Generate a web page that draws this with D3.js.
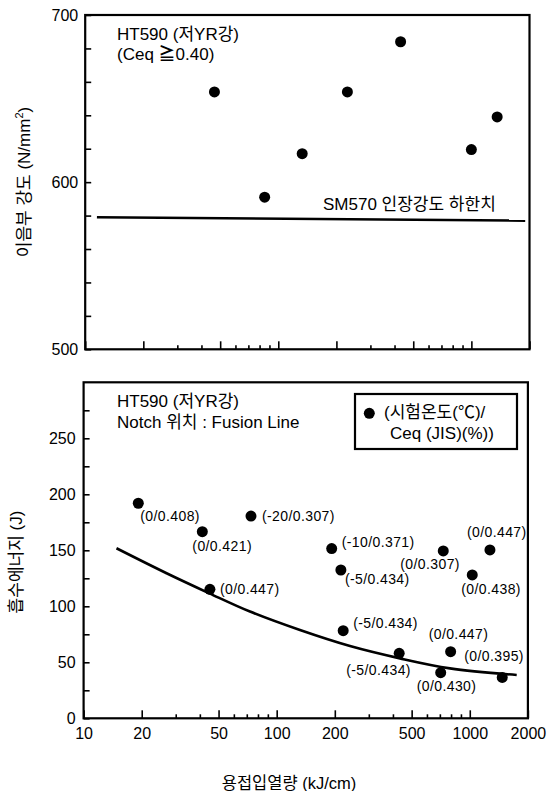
<!DOCTYPE html>
<html>
<head>
<meta charset="utf-8">
<script src="https://cdn.jsdelivr.net/npm/d3@7/dist/d3.min.js"></script>
<style>
  html, body { margin: 0; padding: 0; background: #fff; }
  svg { display: block; font-family: "Liberation Sans", Arial, "Noto Sans CJK KR", sans-serif; }
</style>
</head>
<body>
<svg id="chart" width="551" height="791"></svg>
<script>
// ---------------- DATA ----------------
// Top panel: joint tensile strength (N/mm2) vs heat input (kJ/cm)
const topHeatInput = [46.7, 85, 133, 228, 430, 1000, 1360];
const topStrength  = [654, 591, 617, 654, 684, 619.5, 639];
const refLineX = [11.5, 1900];        // SM570 lower limit line extent
const refLineY = [579, 577];
const topYTicks = [500, 520, 540, 560, 580, 600, 620, 640, 660, 680, 700];
const topYLabels = [500, 600, 700];

// Bottom panel: absorbed energy (J) vs heat input (kJ/cm)
const botHeatInput = [19.2, 41.2, 73.6, 45.1, 192.7, 215, 221, 431, 729, 1272, 1030, 796, 707, 1473];
const botEnergy    = [192, 166.6, 180.6, 115.2, 151.5, 132.4, 78.2, 58, 149.4, 150.3, 128, 59.5, 40.7, 36.5];
const botLabels    = ["(0/0.408)", "(0/0.421)", "(-20/0.307)", "(0/0.447)", "(-10/0.371)", "(-5/0.434)",
                      "(-5/0.434)", "(-5/0.434)", "(0/0.307)", "(0/0.447)", "(0/0.438)", "(0/0.447)",
                      "(0/0.430)", "(0/0.395)"];
// fitted trend curve
const curveHeatInput = [14.8, 26.9, 44.8, 72.7, 132, 239.7, 435, 789.6, 1750];
const curveEnergy    = [151.8, 129.5, 111.6, 95.3, 78.8, 64.5, 53.5, 44.6, 38.7];
const botYTicks  = [0, 25, 50, 75, 100, 125, 150, 175, 200, 225, 250, 275];
const botYLabels = [0, 50, 100, 150, 200, 250];

const xMajorTicks = [10, 20, 50, 100, 200, 500, 1000, 2000];
const xMinorTicks = [30, 40, 60, 70, 80, 90, 300, 400, 600, 700, 800, 900];

// label placement (style): offsets from point to label start / centre line
const labelOffsets = [[2,13],[-10,14],[11,0],[10,0],[10,-7],[4,9],[10,-8],[-53,17],[-43,13],[-23,-18],[-11,14],[-22,-18],[-24,13],[-38,-21]];

// ---------------- DRAW ----------------
const svg = d3.select("#chart");
svg.append("rect").attr("width", 551).attr("height", 791).attr("fill", "#fff");

function panel(opts) {
  const g = svg.append("g");
  const x = opts.x, y = opts.y;
  const [x0, x1] = x.range();
  const [y0, y1] = y.range();
  // minor x ticks
  g.append("g").attr("transform", `translate(0,${y0})`)
    .call(d3.axisBottom(x).tickValues(xMinorTicks).tickSize(-4).tickFormat(""))
    .call(s => s.select(".domain").remove())
    .call(s => s.selectAll("line").attr("stroke", "#000").attr("stroke-width", 1.6));
  // major x ticks
  g.append("g").attr("transform", `translate(0,${y0})`)
    .call(d3.axisBottom(x).tickValues(xMajorTicks).tickSize(-8).tickPadding(9)
      .tickFormat(opts.xLabels ? d3.format("d") : ""))
    .call(s => s.select(".domain").remove())
    .call(s => s.selectAll("line").attr("stroke", "#000").attr("stroke-width", 1.6))
    .call(s => s.selectAll("text").attr("font-size", 16).attr("fill", "#000")
      .attr("font-family", "'Liberation Sans', Arial, sans-serif"));
  // y ticks
  g.append("g").attr("transform", `translate(${x0},0)`)
    .call(d3.axisLeft(y).tickValues(opts.yTicks).tickSize(-6).tickPadding(opts.yPad)
      .tickFormat(d => opts.yLabels.includes(d) ? d : ""))
    .call(s => s.select(".domain").remove())
    .call(s => s.selectAll("line").attr("stroke", "#000").attr("stroke-width", 1.6))
    .call(s => s.selectAll("text").attr("font-size", 16).attr("fill", "#000")
      .attr("font-family", "'Liberation Sans', Arial, sans-serif"));
  // frame
  g.append("rect").attr("x", x0).attr("y", y1).attr("width", x1 - x0).attr("height", y0 - y1)
    .attr("fill", "none").attr("stroke", "#000").attr("stroke-width", 2.2);
  return g;
}

// ---- Top panel
const xTop = d3.scaleLog().domain([10, 2000]).range([85.2, 529.5]);
const yTop = d3.scaleLinear().domain([500, 700]).range([349.3, 15]);
const gTop = panel({x: xTop, y: yTop, yTicks: topYTicks, yLabels: topYLabels, yPad: 7, xLabels: false});

gTop.append("line")
  .attr("x1", xTop(refLineX[0])).attr("y1", yTop(refLineY[0]))
  .attr("x2", xTop(refLineX[1])).attr("y2", yTop(refLineY[1]))
  .attr("stroke", "#000").attr("stroke-width", 2.6);

gTop.selectAll("circle.pt").data(topHeatInput).join("circle")
  .attr("class", "pt")
  .attr("cx", d => xTop(d)).attr("cy", (d, i) => yTop(topStrength[i]))
  .attr("r", 5.5).attr("fill", "#000");

gTop.append("text").attr("x", 117).attr("y", 39.5).attr("font-size", 17).text("HT590 (저YR강)");
gTop.append("text").attr("x", 117).attr("y", 59.6).attr("font-size", 17)
  .html('(Ceq <tspan font-weight="bold">≧</tspan>0.40)');
gTop.append("text").attr("x", 323).attr("y", 210).attr("font-size", 17).text("SM570 인장강도 하한치");

svg.append("text").attr("transform", "translate(30,182) rotate(-90)")
  .attr("text-anchor", "middle").attr("font-size", 17)
  .html('이음부 강도 (N/mm<tspan font-size="11" dy="-7">2</tspan><tspan dy="7">)</tspan>');

// ---- Bottom panel
const xBot = d3.scaleLog().domain([10, 2000]).range([83.6, 527.9]);
const yBot = d3.scaleLinear().domain([0, 300]).range([718.3, 382.3]);
const gBot = panel({x: xBot, y: yBot, yTicks: botYTicks, yLabels: botYLabels, yPad: 8, xLabels: true});

const line = d3.line().x(d => xBot(d[0])).y(d => yBot(d[1])).curve(d3.curveCatmullRom.alpha(0.5));
gBot.append("path")
  .attr("d", line(curveHeatInput.map((v, i) => [v, curveEnergy[i]])))
  .attr("fill", "none").attr("stroke", "#000").attr("stroke-width", 2.6);

gBot.selectAll("circle.pt").data(botHeatInput).join("circle")
  .attr("class", "pt")
  .attr("cx", d => xBot(d)).attr("cy", (d, i) => yBot(botEnergy[i]))
  .attr("r", 5.5).attr("fill", "#000");

gBot.selectAll("text.lbl").data(botHeatInput).join("text")
  .attr("class", "lbl")
  .attr("x", (d, i) => xBot(d) + labelOffsets[i][0])
  .attr("y", (d, i) => yBot(botEnergy[i]) + labelOffsets[i][1])
  .attr("dy", "0.36em")
  .attr("font-size", 14).attr("letter-spacing", 0.4)
  .text((d, i) => botLabels[i]);

gBot.append("text").attr("x", 117).attr("y", 407.3).attr("font-size", 17).text("HT590 (저YR강)");
gBot.append("text").attr("x", 117).attr("y", 428.3).attr("font-size", 17).text("Notch 위치 : Fusion Line");

// legend
const lg = gBot.append("g");
lg.append("rect").attr("x", 355).attr("y", 394).attr("width", 162).attr("height", 55)
  .attr("fill", "#fff").attr("stroke", "#000").attr("stroke-width", 2.2);
lg.append("circle").attr("cx", 369.3).attr("cy", 413.3).attr("r", 5.5).attr("fill", "#000");
lg.append("text").attr("x", 384).attr("y", 417.5).attr("font-size", 17).text("(시험온도(℃)/");
lg.append("text").attr("x", 390).attr("y", 439).attr("font-size", 17).text("Ceq (JIS)(%))");

svg.append("text").attr("transform", "translate(22,562) rotate(-90)")
  .attr("text-anchor", "middle").attr("font-size", 17).text("흡수에너지 (J)");

svg.append("text").attr("x", 289).attr("y", 789).attr("text-anchor", "middle")
  .attr("font-size", 16.5).text("용접입열량 (kJ/cm)");
</script>
</body>
</html>
